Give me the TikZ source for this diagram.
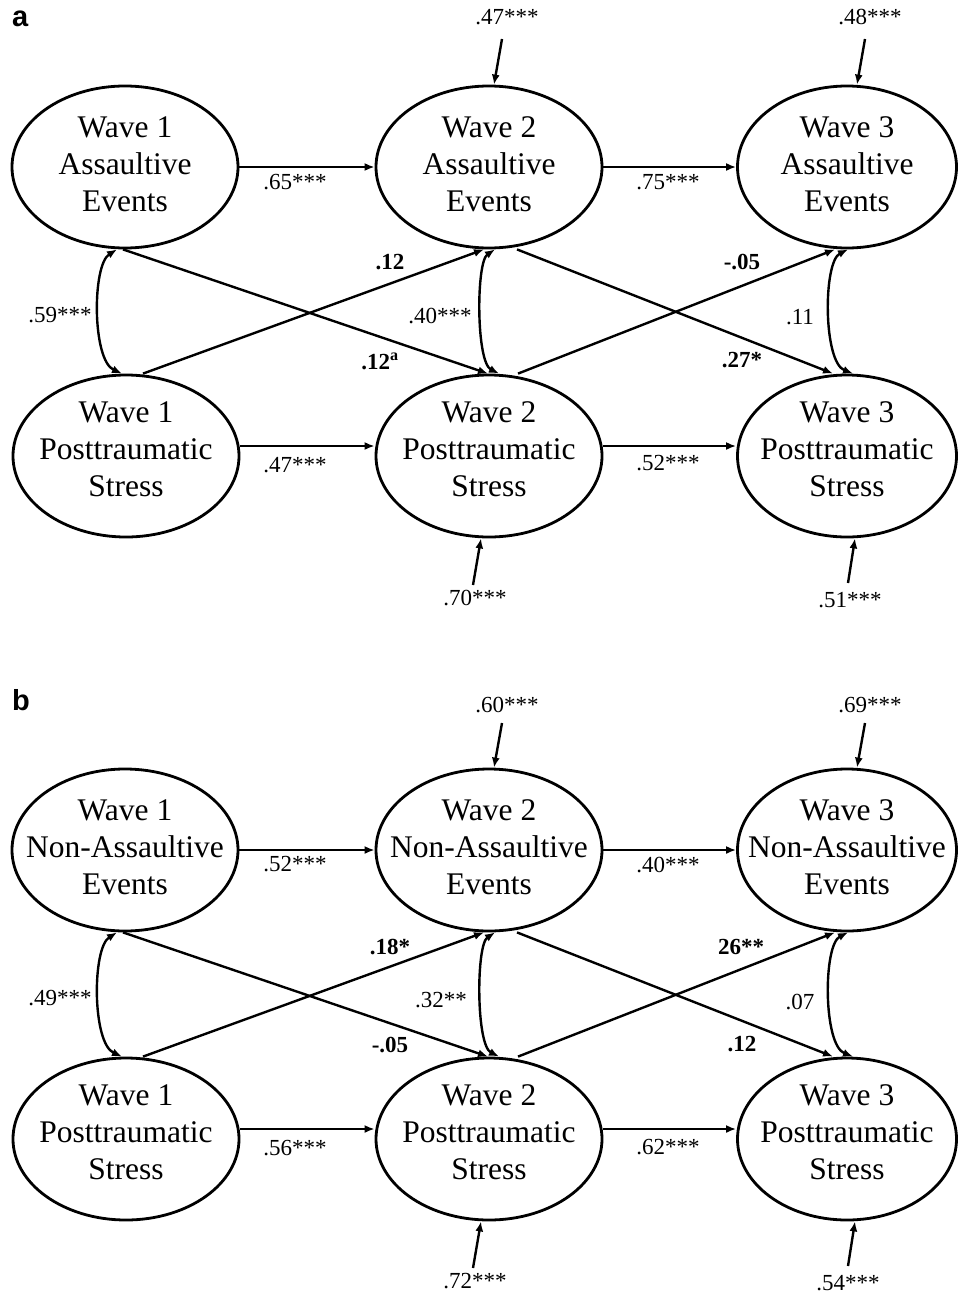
\documentclass[tikz,border=0pt]{standalone}
\usepackage{fontspec}
\setmainfont{Liberation Serif}
\setsansfont{Liberation Sans}
\usetikzlibrary{shapes.geometric,arrows.meta,calc}
\tikzset{
  lat/.style={draw, ellipse, line width=2.8pt, minimum width=226pt, minimum height=162pt, inner sep=0pt},
  latr/.style={lat, minimum width=219pt},
  lbl/.style={font=\fontsize{31.5}{37}\selectfont, align=center, inner sep=0pt},
  coef/.style={font=\fontsize{23}{24}\selectfont, inner sep=0pt},
  bcoef/.style={font=\fontsize{23}{24}\selectfont\bfseries, inner sep=0pt},
  panellbl/.style={font=\fontsize{29}{29}\selectfont\sffamily\bfseries, inner sep=0pt, anchor=base west},
  arr/.style={line width=2.4pt, -{Latex[length=10pt,width=8pt]}},
  cov/.style={line width=2.4pt, {Latex[length=10pt,width=8pt]}-{Latex[length=10pt,width=8pt]}},
}
\begin{document}
\begin{tikzpicture}[x=1pt,y=-1pt]
\useasboundingbox (0,0) rectangle (958,1295);
% ================= panel a =================
\node[panellbl] (alab) at (12,27) {a};
\node[lat]  (aA1) at (125,167) {};
\node[lat]  (aA2) at (489,167) {};
\node[latr] (aA3) at (847,167) {};
\node[lat]  (aP1) at (126,456) {};
\node[lat]  (aP2) at (489,456) {};
\node[latr] (aP3) at (847,456) {};
\node[lbl] (aA1t) at (125,164) {Wave 1\\Assaultive\\Events};
\node[lbl] (aA2t) at (489,164) {Wave 2\\Assaultive\\Events};
\node[lbl] (aA3t) at (847,164) {Wave 3\\Assaultive\\Events};
\node[lbl] (aP1t) at (126,449) {Wave 1\\Posttraumatic\\Stress};
\node[lbl] (aP2t) at (489,449) {Wave 2\\Posttraumatic\\Stress};
\node[lbl] (aP3t) at (847,449) {Wave 3\\Posttraumatic\\Stress};
% autoregressive
\draw[arr] (aA1.east) -- (aA2.west);
\draw[arr] (aA2.east) -- (aA3.west);
\draw[arr] ($(aP1.east)+(0,-10)$) -- ($(aP2.west)+(0,-10)$);
\draw[arr] ($(aP2.east)+(0,-10)$) -- ($(aP3.west)+(0,-10)$);
\node[coef] (ac1) at (295,182) {.65***};
\node[coef] (ac2) at (668,182) {.75***};
\node[coef] (ac3) at (295,465) {.47***};
\node[coef] (ac4) at (668,463) {.52***};
% residuals
\coordinate (aeA2) at (502,39);
\coordinate (aeA3) at (865,39);
\coordinate (aeP2) at (473,585);
\coordinate (aeP3) at (848,583);
\draw[arr] (aeA2) -- ($(aA2.north)+(5,0)$);
\draw[arr] (aeA3) -- ($(aA3.north)+(10,0)$);
\draw[arr] (aeP2) -- ($(aP2.south)+(-8,0)$);
\draw[arr] (aeP3) -- ($(aP3.south)+(8,0)$);
\node[coef] (ar1) at (507,17) {.47***};
\node[coef] (ar2) at (870,17) {.48***};
\node[coef] (ar3) at (475,598) {.70***};
\node[coef] (ar4) at (850,600) {.51***};
% covariances
\draw[cov] ($(aA1.south)+(-8,0)$) .. controls (92,265) and (92,360) .. ($(aP1.north)+(-4,0)$);
\draw[cov] ($(aA2.south)+(6,0)$) .. controls (476,262) and (476,362) .. ($(aP2.north)+(10,0)$);
\draw[cov] ($(aA3.south)+(1,0)$) .. controls (823,262) and (823,362) .. ($(aP3.north)+(6,0)$);
\node[coef] (av1) at (60,315) {.59***};
\node[coef] (av2) at (440,316) {.40***};
\node[coef] (av3) at (800,317) {.11};
% cross-lagged
\draw[arr] ($(aA1.south)+(-2,0)$) -- ($(aP2.north)+(-1,0)$);
\draw[arr] ($(aP1.north)+(17,0)$) -- ($(aA2.south)+(-5,0)$);
\draw[arr] ($(aA2.south)+(28,0)$) -- ($(aP3.north)+(-14,0)$);
\draw[arr] ($(aP2.north)+(29,0)$) -- ($(aA3.south)+(-12,0)$);
\node[bcoef] (ax1) at (390,262) {.12};
\node[bcoef] (ax2) at (380,361) {.12\textsuperscript{a}};
\node[bcoef] (ax3) at (742,262) {-.05};
\node[bcoef] (ax4) at (742,360) {.27*};
% ================= panel b =================
\node[panellbl] (blab) at (12,710) {b};
\node[lat]  (bA1) at (125,850) {};
\node[lat]  (bA2) at (489,850) {};
\node[latr] (bA3) at (847,850) {};
\node[lat]  (bP1) at (126,1139) {};
\node[lat]  (bP2) at (489,1139) {};
\node[latr] (bP3) at (847,1139) {};
\node[lbl] (bA1t) at (125,847) {Wave 1\\Non-Assaultive\\Events};
\node[lbl] (bA2t) at (489,847) {Wave 2\\Non-Assaultive\\Events};
\node[lbl] (bA3t) at (847,847) {Wave 3\\Non-Assaultive\\Events};
\node[lbl] (bP1t) at (126,1132) {Wave 1\\Posttraumatic\\Stress};
\node[lbl] (bP2t) at (489,1132) {Wave 2\\Posttraumatic\\Stress};
\node[lbl] (bP3t) at (847,1132) {Wave 3\\Posttraumatic\\Stress};
% autoregressive
\draw[arr] (bA1.east) -- (bA2.west);
\draw[arr] (bA2.east) -- (bA3.west);
\draw[arr] ($(bP1.east)+(0,-10)$) -- ($(bP2.west)+(0,-10)$);
\draw[arr] ($(bP2.east)+(0,-10)$) -- ($(bP3.west)+(0,-10)$);
\node[coef] (bc1) at (295,864) {.52***};
\node[coef] (bc2) at (668,865) {.40***};
\node[coef] (bc3) at (295,1148) {.56***};
\node[coef] (bc4) at (668,1147) {.62***};
% residuals
\coordinate (beA2) at (502,723);
\coordinate (beA3) at (865,723);
\coordinate (beP2) at (473,1268);
\coordinate (beP3) at (848,1266);
\draw[arr] (beA2) -- ($(bA2.north)+(5,0)$);
\draw[arr] (beA3) -- ($(bA3.north)+(10,0)$);
\draw[arr] (beP2) -- ($(bP2.south)+(-8,0)$);
\draw[arr] (beP3) -- ($(bP3.south)+(8,0)$);
\node[coef] (br1) at (507,705) {.60***};
\node[coef] (br2) at (870,705) {.69***};
\node[coef] (br3) at (475,1281) {.72***};
\node[coef] (br4) at (848,1283) {.54***};
% covariances
\draw[cov] ($(bA1.south)+(-8,0)$) .. controls (92,948) and (92,1043) .. ($(bP1.north)+(-4,0)$);
\draw[cov] ($(bA2.south)+(6,0)$) .. controls (476,945) and (476,1045) .. ($(bP2.north)+(10,0)$);
\draw[cov] ($(bA3.south)+(1,0)$) .. controls (823,945) and (823,1045) .. ($(bP3.north)+(6,0)$);
\node[coef] (bv1) at (60,998) {.49***};
\node[coef] (bv2) at (441,1000) {.32**};
\node[coef] (bv3) at (800,1002) {.07};
% cross-lagged
\draw[arr] ($(bA1.south)+(-2,0)$) -- ($(bP2.north)+(-1,0)$);
\draw[arr] ($(bP1.north)+(17,0)$) -- ($(bA2.south)+(-5,0)$);
\draw[arr] ($(bA2.south)+(28,0)$) -- ($(bP3.north)+(-14,0)$);
\draw[arr] ($(bP2.north)+(29,0)$) -- ($(bA3.south)+(-12,0)$);
\node[bcoef] (bx1) at (390,947) {.18*};
\node[bcoef] (bx2) at (390,1045) {-.05};
\node[bcoef] (bx3) at (741,947) {26**};
\node[bcoef] (bx4) at (742,1044) {.12};
\end{tikzpicture}
\end{document}
